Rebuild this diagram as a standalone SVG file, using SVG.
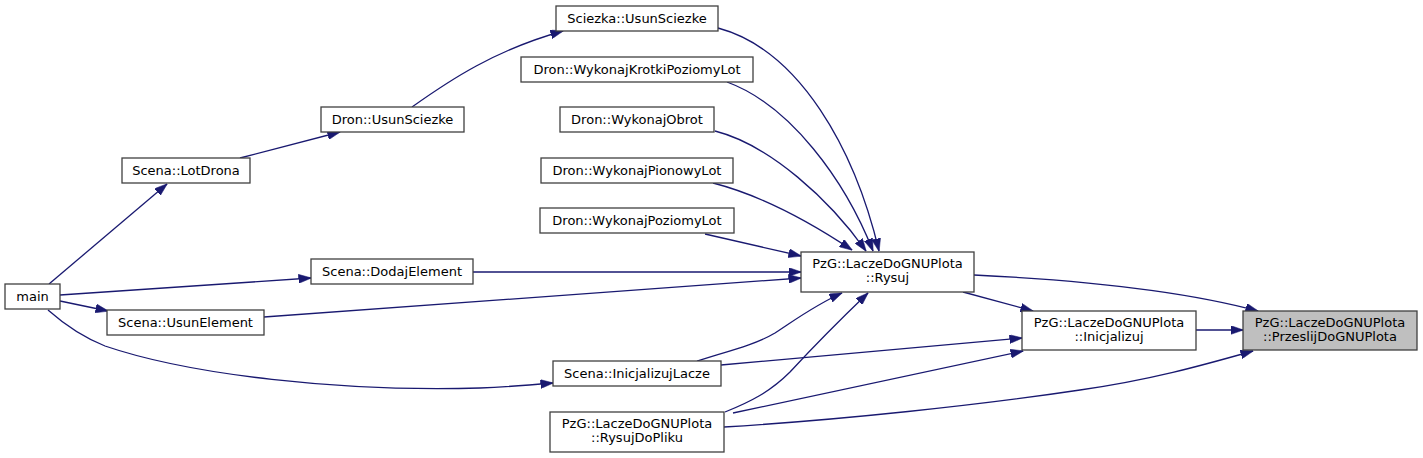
<svg xmlns="http://www.w3.org/2000/svg" width="1423" height="458" viewBox="0 0 1423 458">
<style>
.node rect{fill:#ffffff;stroke:#404040;stroke-width:1.3}
.node.hl rect{fill:#bfbfbf}
.node text{font-family:"DejaVu Sans",sans-serif;font-size:13px;fill:#000;text-anchor:middle}
.edges path{fill:none;stroke:#191970;stroke-width:1.3;marker-end:url(#ah)}
</style>
<defs>
<marker id="ah" viewBox="0 0 13 9" refX="12.5" refY="4.5" markerWidth="13" markerHeight="9" markerUnits="userSpaceOnUse" orient="auto">
<path d="M0,0 L13,4.5 L0,9 z" fill="#191970" stroke="#191970" stroke-width="0.5"/>
</marker>
</defs>
<rect width="1423" height="458" fill="#ffffff"/>
<g class="edges" id="connectors">
<path d="M49,284 L167,184"/>
<path d="M240,158 L340,132"/>
<path d="M412,107 C450,80 495,50 563,31"/>
<path d="M718,28 C800,50 855,150 879,251"/>
<path d="M727,82 C790,105 845,180 873,251"/>
<path d="M715,131 C770,145 830,200 866,251"/>
<path d="M713,183 C760,195 810,222 852,250"/>
<path d="M705,234 L801,256"/>
<path d="M473,272 L801,272"/>
<path d="M264,317 L801,278"/>
<path d="M60,295 L311,278"/>
<path d="M60,301 L108,311"/>
<path d="M48,310 C65,325 85,338 105,346 C190,375 340,392 480,388 C505,387 530,385 553,383"/>
<path d="M697,361 C725,352 755,345 775,333 C795,320 815,305 842,293"/>
<path d="M725,412 C750,402 770,392 790,372 C815,345 845,315 868,293"/>
<path d="M733,413 C800,398 900,378 1023,351"/>
<path d="M724,427 C840,420 980,405 1080,390 C1150,380 1200,366 1253,351"/>
<path d="M721,365 L1022,338"/>
<path d="M963,292 L1033,311"/>
<path d="M974,275 C1080,280 1180,290 1258,311"/>
<path d="M1196,330 L1243,330"/>
</g>
<g class="node" id="main"><rect x="5" y="284" width="55" height="25"/><text x="32.5" y="301">main</text></g>
<g class="node" id="Scena_LotDrona"><rect x="122" y="158" width="128" height="25"/><text x="186" y="175">Scena::LotDrona</text></g>
<g class="node" id="Dron_UsunSciezke"><rect x="321" y="107" width="143" height="25"/><text x="392.5" y="124">Dron::UsunSciezke</text></g>
<g class="node" id="Sciezka_UsunSciezke"><rect x="556" y="6" width="162" height="25"/><text x="637" y="23">Sciezka::UsunSciezke</text></g>
<g class="node" id="Dron_WykonajKrotkiPoziomyLot"><rect x="521" y="57" width="232" height="25"/><text x="637" y="74">Dron::WykonajKrotkiPoziomyLot</text></g>
<g class="node" id="Dron_WykonajObrot"><rect x="560" y="107" width="154" height="25"/><text x="637" y="124">Dron::WykonajObrot</text></g>
<g class="node" id="Dron_WykonajPionowyLot"><rect x="541" y="158" width="192" height="25"/><text x="637" y="175">Dron::WykonajPionowyLot</text></g>
<g class="node" id="Dron_WykonajPoziomyLot"><rect x="540" y="208" width="194" height="25"/><text x="637" y="225">Dron::WykonajPoziomyLot</text></g>
<g class="node" id="Scena_DodajElement"><rect x="311" y="259" width="162" height="25"/><text x="392" y="276">Scena::DodajElement</text></g>
<g class="node" id="Scena_UsunElement"><rect x="107" y="310" width="157" height="25"/><text x="185.5" y="327">Scena::UsunElement</text></g>
<g class="node" id="PzG_Rysuj"><rect x="801" y="252" width="173" height="40"/><text x="887.5" y="267.5">PzG::LaczeDoGNUPlota</text><text x="887.5" y="282">::Rysuj</text></g>
<g class="node" id="Scena_InicjalizujLacze"><rect x="553" y="361" width="168" height="25"/><text x="637" y="378">Scena::InicjalizujLacze</text></g>
<g class="node" id="PzG_RysujDoPliku"><rect x="550" y="412" width="174" height="40"/><text x="637" y="427.5">PzG::LaczeDoGNUPlota</text><text x="637" y="442">::RysujDoPliku</text></g>
<g class="node" id="PzG_Inicjalizuj"><rect x="1022" y="311" width="174" height="39"/><text x="1109" y="326.5">PzG::LaczeDoGNUPlota</text><text x="1109" y="341">::Inicjalizuj</text></g>
<g class="node hl" id="PzG_PrzeslijDoGNUPlota"><rect x="1243" y="311" width="174" height="39"/><text x="1330" y="326.5">PzG::LaczeDoGNUPlota</text><text x="1330" y="341">::PrzeslijDoGNUPlota</text></g>
</svg>
